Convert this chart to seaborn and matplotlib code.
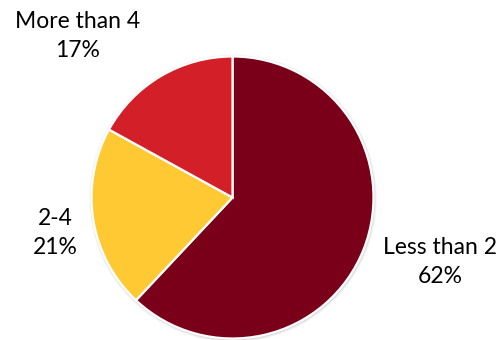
import matplotlib
matplotlib.use("Agg")
import matplotlib.pyplot as plt
import seaborn as sns
from matplotlib.patches import Circle

categories = ["Less than 2", "2-4", "More than 4"]
shares = [62, 21, 17]
colors = ["#7A001A", "#FFC933", "#D21F28"]

sns.set_theme(style="white")
plt.rcParams["font.family"] = ["Lato", "DejaVu Sans"]

W, H = 502, 340
fig = plt.figure(figsize=(W / 100, H / 100), dpi=100)
ax = fig.add_axes([0, 0, 1, 1])

cx, cy, r = 232.5, H - 197.5, 141

# soft shadow ring behind the pie
for k, a in [(3.0, 0.06), (2.0, 0.10), (1.0, 0.16)]:
    ax.add_patch(Circle((cx + 0.5, cy - 0.8), r + k, color="#808080", alpha=a, lw=0, zorder=0))

ax.pie(shares, colors=colors, startangle=90, counterclock=False,
       center=(cx, cy), radius=r, frame=True,
       wedgeprops=dict(edgecolor="white", linewidth=1.6))
ax.set_xlim(0, W)
ax.set_ylim(0, H)
ax.set_aspect("equal")
ax.axis("off")

label_pos = {"Less than 2": (440, 262), "2-4": (55, 233), "More than 4": (78, 36)}
for cat, val in zip(categories, shares):
    x, y = label_pos[cat]
    ax.text(x, H - y, f"{cat}\n{val}%", ha="center", va="center",
            fontsize=16.5, color="black", linespacing=1.42)

fig.savefig("out.png", dpi=100)
